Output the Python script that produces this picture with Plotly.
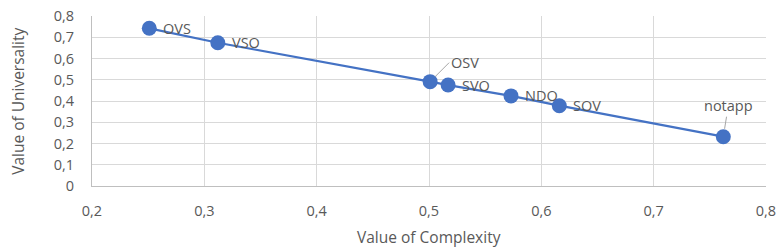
import plotly.graph_objects as go

labels = ["OVS", "VSO", "OSV", "SVO", "NDO", "SOV", "notapp"]
complexity = [0.251, 0.312, 0.501, 0.517, 0.573, 0.616, 0.762]
universality = [0.742, 0.674, 0.491, 0.475, 0.424, 0.378, 0.232]

x_ticks = [0.2, 0.3, 0.4, 0.5, 0.6, 0.7, 0.8]
x_ticktext = ["0,2", "0,3", "0,4", "0,5", "0,6", "0,7", "0,8"]
y_ticks = [0, 0.1, 0.2, 0.3, 0.4, 0.5, 0.6, 0.7, 0.8]
y_ticktext = ["0", "0,1", "0,2", "0,3", "0,4", "0,5", "0,6", "0,7", "0,8"]

blue = "#4472C4"
txt = "#595959"
grid = "#d9d9d9"
font_family = "Open Sans"
fs = 14.5

fig = go.Figure()
fig.add_trace(go.Scatter(
    x=complexity, y=universality, mode="lines+markers",
    line=dict(color=blue, width=2.2),
    marker=dict(color=blue, size=15),
    hoverinfo="skip", showlegend=False,
))

anns = []
for lab, xv, yv in zip(labels, complexity, universality):
    if lab == "OSV":
        anns.append(dict(x=xv, y=yv, text=lab, showarrow=True, arrowhead=0,
                         arrowcolor="#a6a6a6", arrowwidth=1, ax=19, ay=-19,
                         xanchor="left", standoff=7,
                         font=dict(size=fs, color=txt, family=font_family)))
    elif lab == "notapp":
        anns.append(dict(x=xv, y=yv, text=lab, showarrow=True, arrowhead=0,
                         arrowcolor="#a6a6a6", arrowwidth=1, ax=5, ay=-31,
                         standoff=8,
                         font=dict(size=fs, color=txt, family=font_family)))
    else:
        anns.append(dict(x=xv, y=yv, text=lab, showarrow=False,
                         xanchor="left", xshift=12,
                         font=dict(size=fs, color=txt, family=font_family)))

anns.append(dict(xref="paper", yref="paper", x=0.5, y=-0.3, yanchor="middle",
                 text="Value of Complexity", showarrow=False,
                 font=dict(size=15.5, color=txt, family=font_family)))
anns.append(dict(xref="paper", yref="paper", x=-0.11, y=0.5, xanchor="center",
                 textangle=-90, text="Value of Universality", showarrow=False,
                 font=dict(size=15.5, color=txt, family=font_family)))

fig.update_layout(
    width=783, height=251,
    margin=dict(l=92, r=17, t=16, b=65),
    paper_bgcolor="white", plot_bgcolor="white",
    font=dict(family=font_family, size=fs, color=txt),
    annotations=anns,
    xaxis=dict(range=[0.2, 0.8], tickvals=x_ticks, ticktext=x_ticktext,
               showgrid=True, gridcolor=grid, gridwidth=1,
               showline=True, linecolor="#bfbfbf", linewidth=1,
               zeroline=False, ticks="", ticklabelstandoff=12,
               automargin=False),
    yaxis=dict(range=[0, 0.8], tickvals=y_ticks, ticktext=y_ticktext,
               showgrid=True, gridcolor=grid, gridwidth=1,
               showline=True, linecolor="#bfbfbf", linewidth=1,
               zeroline=False, ticks="", ticklabelstandoff=14,
               automargin=False),
)

fig.write_html("out.html", config={"displayModeBar": False, "staticPlot": True},
               post_script="document.body.style.margin='0';document.body.style.overflow='hidden';")
